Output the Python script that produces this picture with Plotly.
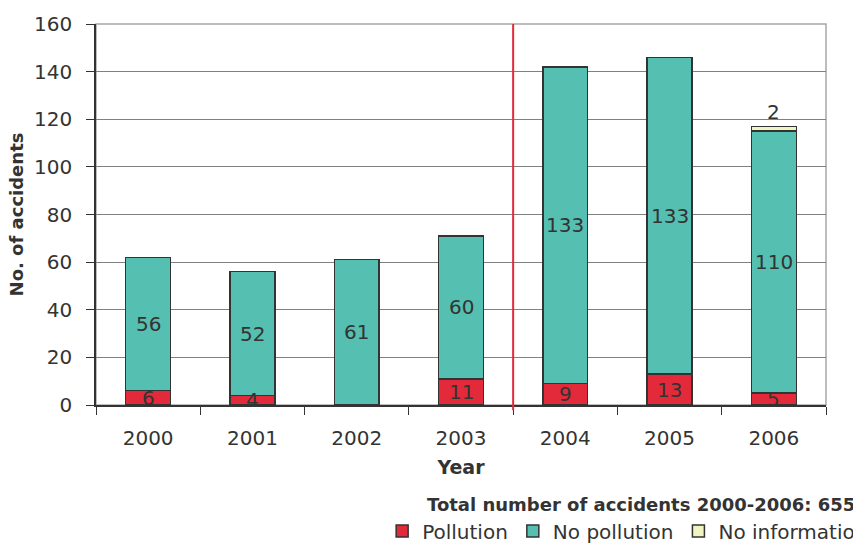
import plotly.graph_objects as go

years = ["2000", "2001", "2002", "2003", "2004", "2005", "2006"]
pollution = [6, 4, 0, 11, 9, 13, 5]
no_pollution = [56, 52, 61, 60, 133, 133, 110]
no_information = [0, 0, 0, 0, 0, 0, 2]
total_text = "Total number of accidents 2000-2006: 655"

FONT = "DejaVu Sans, Liberation Sans, Arial, sans-serif"
TXT = "#333333"
RED = "#E32A3A"
TEAL = "#55BFB1"
YEL = "#F0F4C0"
EDGE = "#333333"

fig = go.Figure()
for name, vals, col in [("Pollution", pollution, RED),
                        ("No pollution", no_pollution, TEAL),
                        ("No information", no_information, YEL)]:
    fig.add_trace(go.Bar(x=years, y=vals, name=name, width=0.43,
                         marker=dict(color=col, line=dict(color=EDGE, width=1.5))))

# value labels
ann = []
for i, y in enumerate(years):
    base = 0
    for vals in (pollution, no_pollution):
        v = vals[i]
        if v:
            ann.append(dict(x=i, y=base + v / 2, text=str(v), showarrow=False,
                            font=dict(family=FONT, size=20, color=TXT), xref="x", yref="y"))
        base += v
    v = no_information[i]
    if v:
        ann.append(dict(x=i, y=base + v, text=str(v), showarrow=False, yanchor="bottom",
                        font=dict(family=FONT, size=20, color=TXT), xref="x", yref="y"))
ann.append(dict(x=1.042, y=-0.262, xref="paper", yref="paper", xanchor="right", yanchor="middle",
                text="<b>" + total_text + "</b>", showarrow=False,
                font=dict(family=FONT, size=18, color=TXT)))
fig.update_layout(annotations=ann)

fig.add_shape(type="rect", xref="paper", yref="paper", x0=0, x1=1, y0=0, y1=1,
              line=dict(color="#A8A8A8", width=1.5), layer="below")
fig.add_shape(type="line", xref="x", yref="paper", x0=3.5, x1=3.5, y0=-0.014, y1=1,
              line=dict(color=RED, width=2))

fig.update_layout(
    width=853, height=544,
    margin=dict(l=96, r=27, t=24, b=139, autoexpand=False),
    barmode="stack",
    plot_bgcolor="white", paper_bgcolor="white",
    font=dict(family=FONT, color=TXT),
    showlegend=True,
    legend=dict(orientation="h", xref="container", yref="container",
                x=0.448, xanchor="left", y=0.024, yanchor="middle",
                font=dict(family=FONT, size=20, color=TXT), traceorder="normal",
                itemwidth=30, tracegroupgap=0),
    xaxis=dict(type="category", range=[-0.5, 6.5], autorange=False,
               tickson="boundaries", ticks="outside", ticklen=8, ticklabelstandoff=14,
               tickcolor=EDGE, showline=True, linecolor=EDGE, linewidth=1.5,
               tickfont=dict(family=FONT, size=20, color=TXT),
               title=dict(text="<b>Year</b>", font=dict(family=FONT, size=19, color=TXT), standoff=12)),
    yaxis=dict(range=[0, 160], dtick=20, ticks="outside", ticklen=8, ticklabelstandoff=10,
               tickcolor=EDGE, showline=True, linecolor=EDGE, linewidth=1.5,
               showgrid=True, gridcolor="#808080", gridwidth=1, zeroline=False,
               tickfont=dict(family=FONT, size=20, color=TXT),
               title=dict(text="<b>No. of accidents</b>", font=dict(family=FONT, size=18, color=TXT), standoff=6)),
)

fig.write_html("out.html")
